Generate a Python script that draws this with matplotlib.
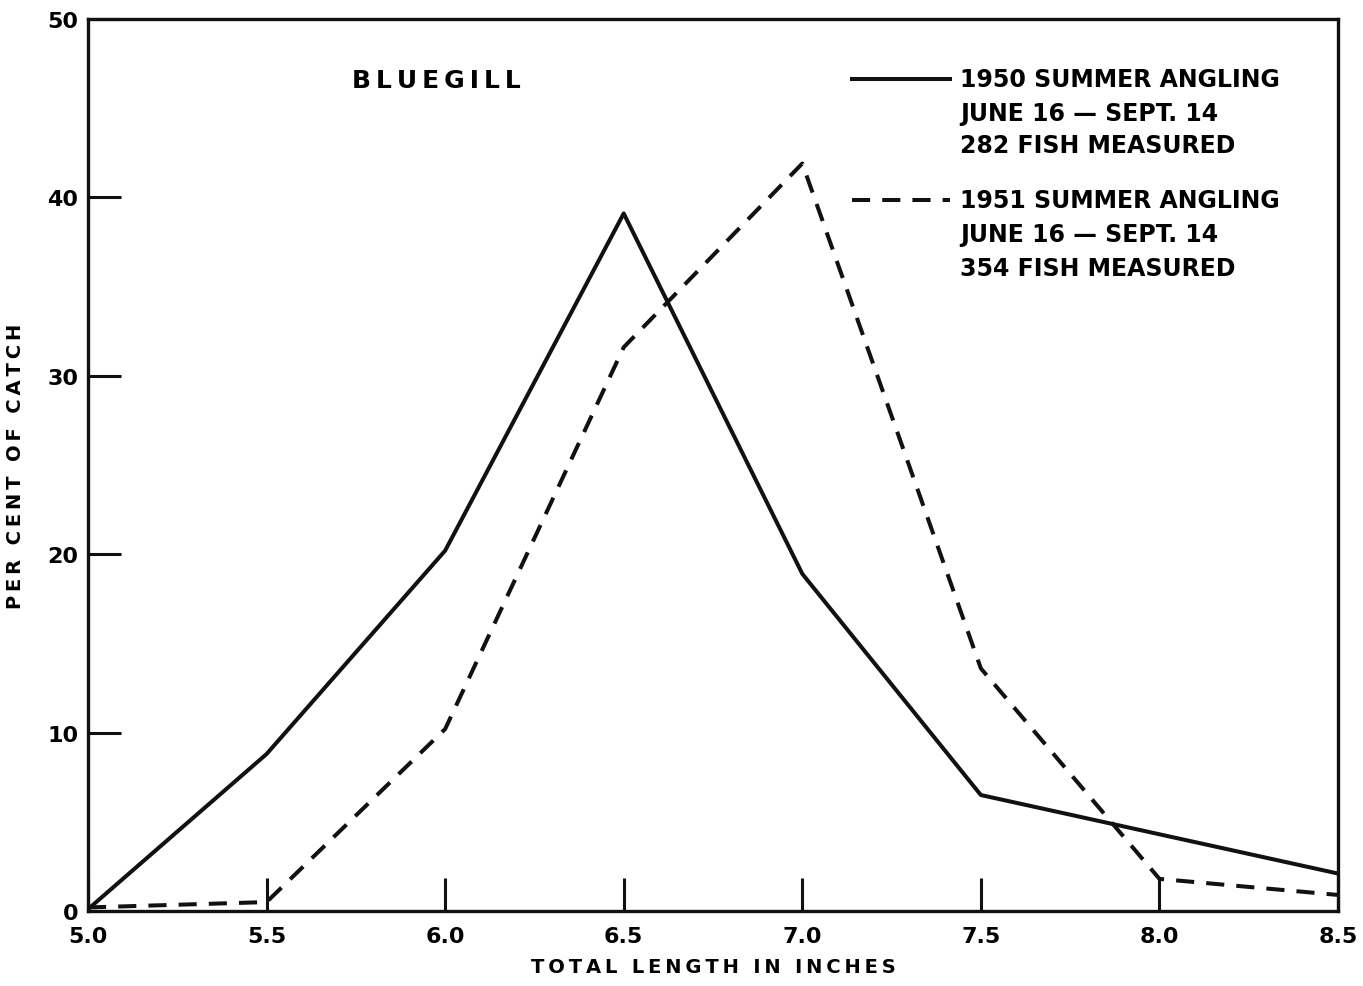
import matplotlib
matplotlib.use("Agg")
import matplotlib.pyplot as plt
from matplotlib.lines import Line2D

length = [5.0, 5.5, 6.0, 6.5, 7.0, 7.5, 8.0, 8.5]
catch_1950 = [0.1, 8.8, 20.2, 39.1, 18.9, 6.5, 4.3, 2.1]
catch_1951 = [0.2, 0.5, 10.2, 31.6, 41.9, 13.6, 1.8, 0.9]
xticks = [5.0, 5.5, 6.0, 6.5, 7.0, 7.5, 8.0, 8.5]
yticks = [0, 10, 20, 30, 40, 50]
legend_1950 = ["1950 SUMMER ANGLING", "JUNE 16 — SEPT. 14", "282 FISH MEASURED"]
legend_1951 = ["1951 SUMMER ANGLING", "JUNE 16 — SEPT. 14", "354 FISH MEASURED"]

plt.rcParams['font.family'] = ['DejaVu Sans']
plt.rcParams['font.weight'] = 'bold'

TS = "\u2009"
def spaced(s):
    return TS.join(s)

W, H = 1363, 987
fig = plt.figure(figsize=(W/100, H/100), dpi=100)
ax = fig.add_axes([88/W, 1-912/H, (1338-88)/W, (912-20)/H])

ax.plot(length, catch_1950, color='#111111', lw=2.9)
ax.plot(length, catch_1951, color='#111111', lw=2.9, dashes=(4.5, 3))

ax.set_xlim(5.0, 8.5)
ax.set_ylim(0, 50)
ax.set_xticks(xticks)
ax.set_xticklabels([f"{v:.1f}" for v in xticks])
ax.set_yticks(yticks)
ax.tick_params(direction='in', length=24, width=2.2, labelsize=16, color='#111111')
ax.tick_params(axis='x', pad=11)
ax.tick_params(axis='y', pad=7)
for s in ax.spines.values():
    s.set_linewidth(2.4)
    s.set_color('#111111')

ax.set_xlabel(spaced("TOTAL LENGTH IN INCHES"), fontsize=14, fontweight='bold', labelpad=8)
ax.set_ylabel(spaced("PER CENT OF CATCH"), fontsize=14, fontweight='bold', labelpad=16)

def ax_xy(px, py):
    return (px-88)/(1338-88), 1-(py-20)/(912-20)

bx, by = ax_xy(352, 81)
ax.text(bx, by, spaced("BLUEGILL"), transform=ax.transAxes,
        fontsize=18, ha='left', va='center')

x0, _ = ax_xy(852, 0)
x1, _ = ax_xy(950, 0)
xt, _ = ax_xy(960, 0)
_, y1 = ax_xy(0, 80)
_, y2 = ax_xy(0, 201)
ax.add_line(Line2D([x0, x1], [y1, y1], transform=ax.transAxes, color='#111111', lw=2.9))
ax.add_line(Line2D([x0, x1], [y2, y2], transform=ax.transAxes, color='#111111', lw=2.9, dashes=(4.5, 3)))
for lines, ys in ((legend_1950, [80, 114, 146]), (legend_1951, [201, 235, 269])):
    for t, py in zip(lines, ys):
        _, yy = ax_xy(0, py)
        ax.text(xt, yy, t, transform=ax.transAxes, fontsize=17, ha='left', va='center')

fig.savefig("out.png", dpi=100)
